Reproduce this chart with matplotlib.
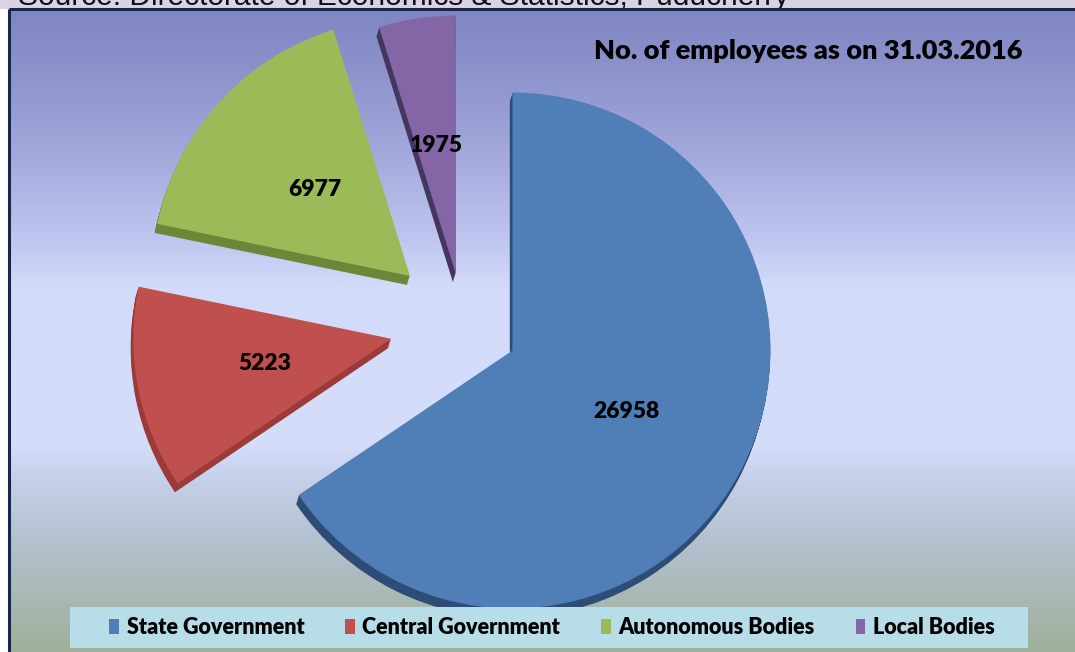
import numpy as np
import matplotlib
matplotlib.use("Agg")
import matplotlib.pyplot as plt
from matplotlib.patches import Rectangle
from matplotlib.colors import LinearSegmentedColormap

# ---- data ----
categories = ["State Government", "Central Government", "Autonomous Bodies", "Local Bodies"]
employees = [26958, 5223, 6977, 1975]
title_text = "No. of employees as on 31.03.2016"
source_text = "Source: Directorate of Economics & Statistics, Puducherry"

# ---- style ----
face_colors = ["#4f7fb6", "#c0504d", "#9bbb59", "#8466a6"]
side_colors = ["#2d4d76", "#9a3b39", "#6c8738", "#45365e"]
explode_frac = [0.215, 0.285, 0.28, 0.2]
W, H = 1075, 652
R = 258
explode = [e * R for e in explode_frac]   # matplotlib uses data units for explode
cx, cy = 463.5, H - 324.5
depth = 9
FONT = ["Lato", "DejaVu Sans"]

fig = plt.figure(figsize=(W / 100, H / 100), dpi=100)
fig.patch.set_facecolor("white")
ax = fig.add_axes([0, 0, 1, 1])

# background gradient (pixel coords, y from top)
stops = [(0.0, "#7f86c2"), (0.08, "#8a91ca"), (0.22, "#a2a8db"), (0.36, "#bfc7f0"),
         (0.43, "#d2dbf9"), (0.68, "#d4defb"), (0.73, "#c6d0ea"), (0.84, "#b2c0cc"),
         (1.0, "#9fb09b")]
cmap = LinearSegmentedColormap.from_list("bg", stops)
grad = np.linspace(0, 1, 400).reshape(-1, 1)
ax.imshow(grad, cmap=cmap, aspect="auto", extent=[9, W, 0, H - 9], origin="upper",
          zorder=0, interpolation="bilinear")

# top strip with cropped source line
ax.add_patch(Rectangle((0, H - 9), W, 9, facecolor="#dcd2e6", edgecolor="none", zorder=0.5))
ax.text(18, H - 5, source_text, fontsize=21.5, family=["Liberation Sans", "DejaVu Sans"],
        color="#111111", ha="left", va="baseline", zorder=0.6)
# frame lines
ax.plot([9, 9], [0, H - 9], color="#17294a", lw=2.2, zorder=5, solid_capstyle="butt")
ax.plot([9, W], [H - 9, H - 9], color="#17294a", lw=2.2, zorder=5, solid_capstyle="butt")

# 3D sides: stacked darker pies
for k in range(depth, 0, -1):
    ax.pie(employees, explode=explode, colors=side_colors, startangle=90,
           counterclock=False, center=(cx - 0.3 * k, cy - k), radius=R,
           wedgeprops=dict(linewidth=0, zorder=2), frame=True)

total = sum(employees)
wedges, _, autotexts = ax.pie(
    employees, explode=explode, colors=face_colors, startangle=90,
    counterclock=False, center=(cx, cy), radius=R,
    wedgeprops=dict(linewidth=0, zorder=3), frame=True,
    autopct=lambda p: f"{round(p * total / 100)}", pctdistance=0.5,
    textprops=dict(fontsize=16.5, fontweight="heavy", family=FONT, color="black", zorder=6))

ax.set_xlim(0, W)
ax.set_ylim(0, H)
ax.set_aspect("auto")
ax.axis("off")

# title
ax.text(1023, H - 59, title_text, fontsize=19.5, fontweight="heavy", family=FONT,
        ha="right", va="baseline", color="black", zorder=6)

# legend box
ax.add_patch(Rectangle((70, H - 648), 958, 41, facecolor="#b7dde8", edgecolor="none", zorder=6))
leg = ax.legend(wedges, categories, ncol=4, loc="center",
                bbox_to_anchor=(552, H - 627.5), bbox_transform=ax.transData,
                frameon=False, handlelength=0.45, handleheight=0.75, handletextpad=0.35,
                columnspacing=1.9, prop=dict(family=FONT, weight="heavy", size=15.5))
leg.set_zorder(7)

fig.savefig("out.png", dpi=100)
